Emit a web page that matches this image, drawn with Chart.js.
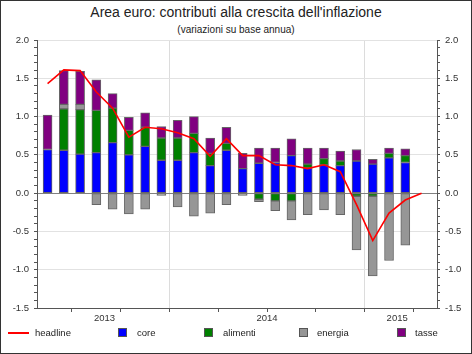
<!DOCTYPE html>
<html lang="it">
<head>
<meta charset="utf-8">
<title>Area euro: contributi alla crescita dell'inflazione</title>
<script src="https://cdn.jsdelivr.net/npm/chart.js@4.4.0/dist/chart.umd.min.js"></script>
<style>
    body { margin: 0; background: #fff; font-family: 'Liberation Sans', Arial, sans-serif; color: #222; }
    #frame { position: relative; width: 472px; height: 354px; box-sizing: border-box; border: 1px solid #333; overflow: hidden; }
    #chart-box { position: absolute; left: -1px; top: -1px; width: 472px; height: 354px; }
    .title { position: absolute; left: -1px; width: 472px; text-align: center; top: 3px; font-size: 14px; }
    .subtitle { position: absolute; left: -1px; width: 472px; text-align: center; top: 23px; font-size: 10px; }
    .legend-item { position: absolute; top: 326px; font-size: 9.5px; line-height: 12px; }
    .swatch { position: absolute; top: 327px; width: 9px; height: 9px; box-sizing: border-box; border: 1px solid #555; }
    .line-swatch { position: absolute; top: 331px; left: 7px; width: 21px; height: 2px; background: #ff0000; }
</style>
</head>
<body>
<div id="frame">
    <div class="title">Area euro: contributi alla crescita dell'inflazione</div>
    <div class="subtitle">(variazioni su base annua)</div>
    <div id="chart-box"><canvas id="inflChart"></canvas></div>

    <!-- Legend -->
    <div class="line-swatch"></div>
    <div class="legend-item" style="left:34px">headline</div>
    <div class="swatch" style="left:117px; background:#0000ff"></div>
    <div class="legend-item" style="left:136px">core</div>
    <div class="swatch" style="left:203px; background:#008000"></div>
    <div class="legend-item" style="left:222px">alimenti</div>
    <div class="swatch" style="left:298px; background:#969696"></div>
    <div class="legend-item" style="left:316px">energia</div>
    <div class="swatch" style="left:396px; background:#800080"></div>
    <div class="legend-item" style="left:414px">tasse</div>
</div>

<script>
// Mesi: mag 2013 - apr 2015
const mesi = ['mag13','giu13','lug13','ago13','set13','ott13','nov13','dic13',
              'gen14','feb14','mar14','apr14','mag14','giu14','lug14','ago14','set14','ott14','nov14','dic14',
              'gen15','feb15','mar15','apr15'];

const core     = [0.57, 0.56, 0.51, 0.53, 0.66, 0.50, 0.61, 0.43, 0.43, 0.53, 0.36, 0.56, 0.32, 0.39, 0.40, 0.49, 0.33, 0.37, 0.36, 0.42, 0.38, 0.46, 0.40, null];
const alimenti = [0.00, 0.54, 0.58, 0.55, 0.45, 0.32, 0.25, 0.29, 0.29, 0.25, 0.16, 0.09, 0.00, -0.08, -0.10, -0.10, 0.05, 0.08, 0.06, -0.04, -0.04, 0.06, 0.09, null];
const energia  = [0.00, 0.06, 0.07, -0.15, -0.21, -0.27, -0.21, -0.03, -0.18, -0.30, -0.26, -0.15, -0.03, -0.03, -0.13, -0.25, -0.28, -0.22, -0.28, -0.70, -1.04, -0.88, -0.68, null];
const tasse    = [0.45, 0.44, 0.43, 0.40, 0.19, 0.17, 0.19, 0.15, 0.23, 0.22, 0.20, 0.21, 0.20, 0.20, 0.19, 0.22, 0.21, 0.14, 0.13, 0.15, 0.06, 0.07, 0.09, null];
const headline = [1.43, 1.61, 1.60, 1.32, 1.11, 0.73, 0.86, 0.84, 0.79, 0.71, 0.48, 0.71, 0.49, 0.49, 0.37, 0.36, 0.32, 0.37, 0.28, -0.15, -0.62, -0.26, -0.09, 0.00];

// Year labels sit mid-year, ticks on quarter boundaries
const anni = [{ pos: 3.5, label: '2013' }, { pos: 13.5, label: '2014' }, { pos: 21.5, label: '2015' }];
const trimestri = [1.5, 4.5, 7.5, 10.5, 13.5, 16.5, 19.5, 22.5];
const confiniAnno = [7.5, 19.5];

const yTicks = [];
for (let i = -15; i <= 20; i++) yTicks.push(i / 10);

function toPoints(arr) {
    return arr.map((v, i) => ({ x: i, y: v }));
}

function isMajor(v) {
    return Math.abs(v * 2 - Math.round(v * 2)) < 1e-6;
}

function near(v, list) {
    return list.some(p => Math.abs(p - v) < 1e-6);
}

document.addEventListener('DOMContentLoaded', function() {
    const tickFont = { family: "'Liberation Sans', Arial, sans-serif", size: 9.5 };

    const barStyle = {
        type: 'bar',
        barThickness: 9,
        borderWidth: 1,
        borderColor: '#666',
        borderSkipped: false,
        order: 1
    };

    const yAxisBase = {
        type: 'linear',
        min: -1.5,
        max: 2.0,
        afterBuildTicks: scale => { scale.ticks = yTicks.map(v => ({ value: v })); },
        ticks: {
            autoSkip: false,
            color: '#333',
            font: tickFont,
            padding: 5,
            callback: v => isMajor(v) ? v.toFixed(1) : ''
        },
        border: { color: '#555' }
    };

    new Chart(document.getElementById('inflChart'), {
        data: {
            datasets: [
                { type: 'line', label: 'headline', data: toPoints(headline), borderColor: '#ff0000', borderWidth: 1.6,
                  pointRadius: 0, fill: false, tension: 0, stack: 'h', order: 0 },
                Object.assign({ label: 'core', data: toPoints(core), backgroundColor: '#0000ff' }, barStyle),
                Object.assign({ label: 'alimenti', data: toPoints(alimenti), backgroundColor: '#008000' }, barStyle),
                Object.assign({ label: 'energia', data: toPoints(energia), backgroundColor: '#969696' }, barStyle),
                Object.assign({ label: 'tasse', data: toPoints(tasse), backgroundColor: '#800080' }, barStyle)
            ]
        },
        options: {
            responsive: true,
            maintainAspectRatio: false,
            animation: false,
            layout: { padding: { top: 40, bottom: 26, left: 0, right: 0 } },
            plugins: {
                legend: { display: false },
                tooltip: { enabled: false }
            },
            scales: {
                x: {
                    type: 'linear',
                    stacked: true,
                    offset: false,
                    min: -0.65,
                    max: 23.95,
                    afterBuildTicks: scale => {
                        const vals = trimestri.concat([3.5, 21.5]).sort((a, b) => a - b);
                        scale.ticks = vals.map(v => ({ value: v }));
                    },
                    afterFit: scale => { scale.height = 20; },
                    ticks: {
                        autoSkip: false,
                        maxRotation: 0,
                        color: '#333',
                        font: tickFont,
                        padding: 1,
                        callback: v => {
                            const a = anni.find(y => Math.abs(y.pos - v) < 1e-6);
                            return a ? a.label : '';
                        }
                    },
                    grid: {
                        offset: false,
                        color: ctx => (ctx.tick && near(ctx.tick.value, confiniAnno)) ? '#dcdcdc' : 'rgba(0,0,0,0)',
                        tickColor: ctx => (ctx.tick && near(ctx.tick.value, trimestri)) ? '#555' : 'rgba(0,0,0,0)',
                        tickLength: 4
                    },
                    border: { color: '#555' }
                },
                y: Object.assign({}, yAxisBase, {
                    position: 'left',
                    stacked: true,
                    afterFit: scale => { scale.width = 37; },
                    grid: {
                        color: ctx => {
                            if (!ctx.tick) return 'rgba(0,0,0,0)';
                            const v = ctx.tick.value;
                            if (Math.abs(v) < 1e-6) return '#808080';
                            return isMajor(v) ? '#e2e2e2' : 'rgba(0,0,0,0)';
                        },
                        tickColor: '#555',
                        tickLength: 3
                    }
                }),
                y2: Object.assign({}, yAxisBase, {
                    position: 'right',
                    afterFit: scale => { scale.width = 35; },
                    grid: {
                        drawOnChartArea: false,
                        tickColor: '#555',
                        tickLength: 3
                    }
                })
            }
        }
    });
});
</script>
</body>
</html>
